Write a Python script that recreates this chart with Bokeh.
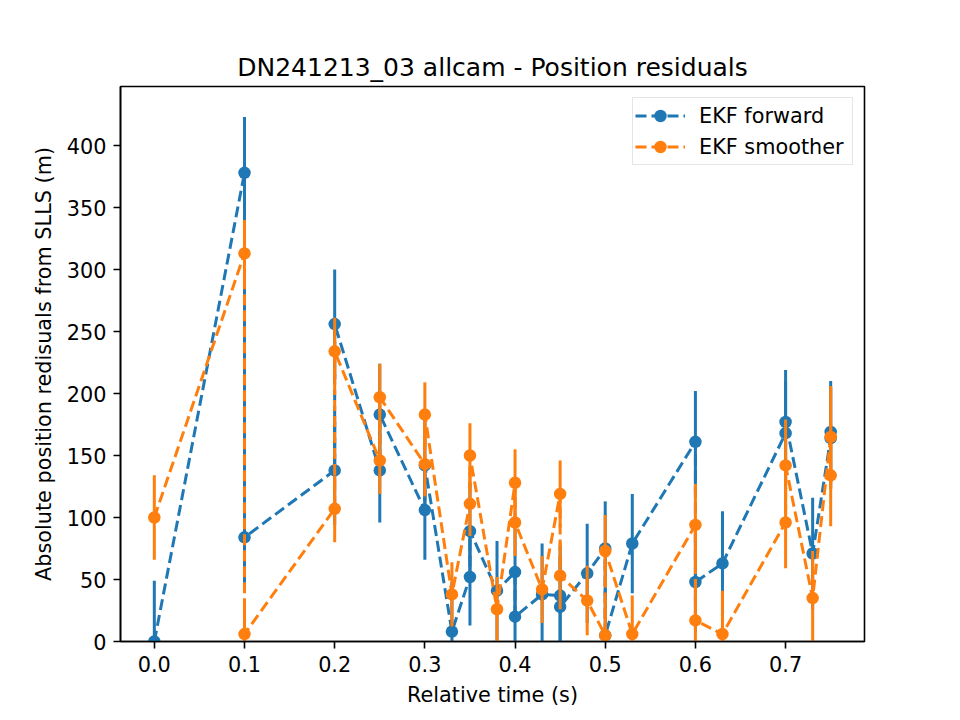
from bokeh.plotting import figure
from bokeh.models import Range1d, FixedTicker, Legend, LegendItem, ColumnDataSource
from bokeh.embed import file_html
from bokeh.resources import INLINE

# ---- data ----
time_fwd = [0.0, 0.1, 0.1, 0.2, 0.2, 0.25, 0.25, 0.3, 0.3, 0.33, 0.35, 0.35, 0.38, 0.4, 0.4,
            0.43, 0.45, 0.45, 0.48, 0.5, 0.5, 0.53, 0.6, 0.6, 0.63, 0.7, 0.7, 0.73, 0.75, 0.75]
res_fwd = [0, 378, 84, 138, 256, 138, 183, 106, 142, 8, 52, 89, 41, 56, 20,
           38, 37, 28, 55, 75, 5, 79, 161, 48, 63, 168, 177, 71, 164, 169]
err_fwd = [49, 45, 44, 44, 44, 42, 41, 40, 40, 40, 39, 39, 40, 40, 40,
           41, 40, 40, 40, 38, 38, 40, 41, 41, 42, 42, 42, 45, 41, 41]

time_smo = [0.0, 0.1, 0.1, 0.2, 0.2, 0.25, 0.25, 0.3, 0.3, 0.33, 0.35, 0.35, 0.38, 0.4, 0.4,
            0.43, 0.45, 0.45, 0.48, 0.5, 0.5, 0.53, 0.6, 0.6, 0.63, 0.7, 0.7, 0.73, 0.75, 0.75]
res_smo = [100, 313, 6, 107, 234, 146, 197, 143, 183, 38, 111, 150, 26, 128, 96,
           42, 119, 53, 33, 5, 73, 6, 94, 17, 6, 96, 142, 35, 165, 134]
err_smo = [34, 27, 27, 27, 27, 27, 27, 26, 26, 26, 26, 26, 26, 27, 27,
           27, 27, 27, 28, 29, 29, 31, 33, 33, 35, 37, 37, 38, 41, 41]

x_ticks = [0.0, 0.1, 0.2, 0.3, 0.4, 0.5, 0.6, 0.7]
x_tick_labels = ["0.0", "0.1", "0.2", "0.3", "0.4", "0.5", "0.6", "0.7"]
y_ticks = [0, 50, 100, 150, 200, 250, 300, 350, 400]

series_names = ["EKF forward", "EKF smoother"]
series_colors = ["#1f77b4", "#ff7f0e"]

FONT = "DejaVu Sans"

p = figure(width=960, height=720, output_backend="svg", toolbar_location=None,
           x_range=Range1d(-0.0375, 0.7875), y_range=Range1d(0, 447.6),
           min_border_left=120, min_border_right=96, min_border_top=86, min_border_bottom=79,
           title="DN241213_03 allcam - Position residuals")
p.background_fill_color = "white"
p.border_fill_color = "white"
p.grid.visible = False
p.outline_line_color = "black"
p.outline_line_width = 1.6

p.title.text_font = FONT
p.title.text_font_size = "25px"
p.title.text_font_style = "normal"
p.title.align = "center"
p.title.text_color = "black"
p.title.standoff = 10

for ax in (p.xaxis[0], p.yaxis[0]):
    ax.axis_line_width = 1.6
    ax.major_tick_line_width = 1.6
    ax.major_tick_out = 7
    ax.major_tick_in = 0
    ax.minor_tick_line_color = None
    ax.major_label_text_font = FONT
    ax.major_label_text_font_size = "20.8px"
    ax.major_label_text_color = "black"
    ax.axis_label_text_font = FONT
    ax.axis_label_text_font_size = "20.8px"
    ax.axis_label_text_font_style = "normal"
    ax.axis_label_text_color = "black"
    ax.major_label_standoff = 7

p.xaxis.ticker = FixedTicker(ticks=x_ticks)
p.xaxis.major_label_overrides = dict(zip(x_ticks, x_tick_labels))
p.yaxis.ticker = FixedTicker(ticks=y_ticks)
p.xaxis.axis_label = "Relative time (s)"
p.yaxis.axis_label = "Absolute position redisuals from SLLS (m)"
p.xaxis.axis_label_standoff = 8
p.yaxis.axis_label_standoff = 8

items = []
for name, color, t, r, e in zip(series_names, series_colors,
                                [time_fwd, time_smo], [res_fwd, res_smo], [err_fwd, err_smo]):
    src = ColumnDataSource(dict(x=t, y=r,
                                lo=[a - b for a, b in zip(r, e)],
                                hi=[a + b for a, b in zip(r, e)]))
    ln = p.line("x", "y", source=src, line_color=color, line_width=3, line_dash="11 5")
    p.segment(x0="x", y0="lo", x1="x", y1="hi", source=src, line_color=color, line_width=3)
    sc = p.scatter("x", "y", source=src, marker="circle", size=12.5,
                   fill_color=color, line_color=color, line_width=0)
    items.append(LegendItem(label=name, renderers=[ln, sc]))

legend = Legend(items=items, location="top_right")
legend.glyph_height = 31
legend.glyph_width = 50
legend.label_height = 21
legend.label_width = 151
legend.label_standoff = 14
legend.label_text_font = FONT
legend.label_text_font_size = "20.8px"
legend.label_text_color = "black"
legend.padding = 2
legend.spacing = 0
legend.margin = 11
legend.border_line_color = "#cccccc"
legend.border_line_width = 1.3
legend.background_fill_alpha = 0.8
p.add_layout(legend)

open("out.html", "w").write(file_html(p, INLINE))
